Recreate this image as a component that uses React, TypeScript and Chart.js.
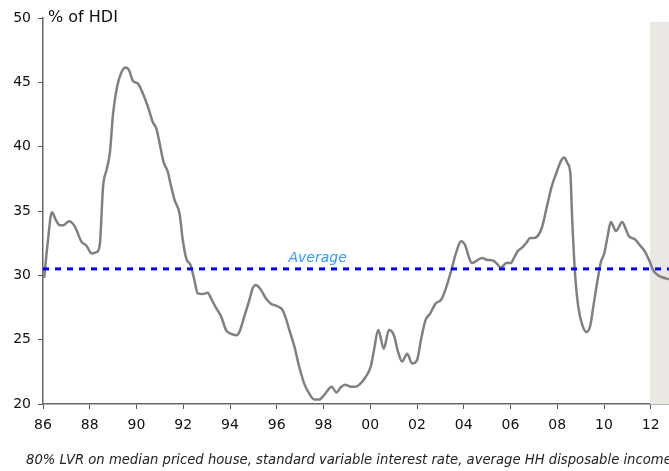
import React, { useEffect, useRef } from "react";
import { Chart, registerables } from "chart.js";

Chart.register(...registerables);

const years: number[] = [
  1986.05, 1986.2, 1986.38, 1986.55, 1986.72, 1986.87, 1987.12, 1987.36, 1987.65, 1987.86,
  1988.08, 1988.29, 1988.43, 1988.57, 1988.72, 1988.86, 1989.0, 1989.17, 1989.36, 1989.54,
  1989.68, 1989.85, 1990.06, 1990.28, 1990.49, 1990.7, 1990.85, 1990.99, 1991.16, 1991.34,
  1991.42, 1991.63, 1991.84, 1991.98, 1992.13, 1992.31, 1992.48, 1992.62, 1992.84, 1993.05,
  1993.19, 1993.41, 1993.62, 1993.83, 1994.05, 1994.26, 1994.4, 1994.61, 1994.83, 1994.97,
  1995.11, 1995.33, 1995.54, 1995.75, 1996.03, 1996.25, 1996.39, 1996.53, 1996.75, 1996.96,
  1997.17, 1997.39, 1997.6, 1997.81, 1998.03, 1998.24, 1998.35, 1998.55, 1998.74, 1998.92,
  1999.16, 1999.38, 1999.59, 1999.8, 2000.02, 2000.16, 2000.34, 2000.58, 2000.8, 2001.01,
  2001.19, 2001.36, 2001.58, 2001.79, 2002.0, 2002.17, 2002.36, 2002.57, 2002.79, 2003.03,
  2003.21, 2003.43, 2003.68, 2003.88, 2004.07, 2004.21, 2004.35, 2004.56, 2004.78, 2004.99,
  2005.25, 2005.42, 2005.59, 2005.82, 2006.01, 2006.16, 2006.3, 2006.52, 2006.69, 2006.84,
  2007.01, 2007.2, 2007.36, 2007.55, 2007.76, 2007.98, 2008.16, 2008.3, 2008.44, 2008.56,
  2008.64, 2008.76, 2008.9, 2009.07, 2009.25, 2009.4, 2009.54, 2009.72, 2009.87, 2010.01,
  2010.15, 2010.29, 2010.51, 2010.78, 2010.92, 2011.06, 2011.32, 2011.53, 2011.75, 2011.96,
  2012.1, 2012.31, 2012.48, 2012.78,
];

const servicing: number[] = [
  29.8, 32.5, 34.9, 34.3, 33.9, 33.9, 34.2, 33.8, 32.6, 32.3,
  31.7, 31.8, 32.4, 36.9, 38.2, 39.5, 42.6, 44.65, 45.8, 46.15,
  45.95, 45.1, 44.9, 44.1, 43.1, 41.9, 41.4, 40.25, 38.8, 38.05,
  37.4, 35.85, 34.8, 32.75, 31.3, 30.8, 29.6, 28.6, 28.55, 28.65,
  28.2, 27.45, 26.8, 25.75, 25.45, 25.35, 25.6, 26.8, 28.1, 29.0,
  29.25, 28.85, 28.2, 27.8, 27.6, 27.3, 26.65, 25.8, 24.5, 22.9,
  21.6, 20.8, 20.35, 20.35, 20.7, 21.2, 21.35, 20.9, 21.3, 21.5,
  21.35, 21.35, 21.6, 22.1, 22.9, 24.2, 25.75, 24.3, 25.75, 25.35,
  24.05, 23.3, 23.9, 23.15, 23.4, 25.0, 26.5, 27.05, 27.8, 28.1,
  28.85, 30.15, 31.8, 32.65, 32.3, 31.45, 30.95, 31.15, 31.35, 31.2,
  31.15, 30.9, 30.6, 30.95, 30.95, 31.4, 31.85, 32.2, 32.55, 32.9,
  32.9, 33.15, 33.8, 35.3, 36.9, 38.05, 38.9, 39.15, 38.7, 37.9,
  34.3, 30.15, 27.55, 26.15, 25.6, 26.0, 27.55, 29.6, 31.05, 31.7,
  33.0, 34.15, 33.45, 34.15, 33.65, 33.05, 32.8, 32.35, 31.85, 31.05,
  30.4, 30.0, 29.85, 29.7,
];

const averageValue = 30.5;
const xRange: number[] = [1986, 2012.78];
const xTickYears: number[] = [1986, 1988, 1990, 1992, 1994, 1996, 1998, 2000, 2002, 2004, 2006, 2008, 2010, 2012];
const yRange: number[] = [20, 50];
const shadedFrom = 2011.97;
const shadedTop = 49.7;
const yAxisLabel = "% of HDI";
const averageLabel = "Average";
const footnote =
  "80% LVR on median priced house, standard variable interest rate, average HH disposable income";

const FONT = "'DejaVu Sans', Verdana, sans-serif";

export default function App() {
  const ref = useRef<HTMLCanvasElement | null>(null);

  useEffect(() => {
    if (!ref.current) return;

    const shade = {
      id: "shade",
      beforeDatasetsDraw(chart: any) {
        const { ctx, chartArea, scales } = chart;
        const x0 = scales.x.getPixelForValue(shadedFrom);
        const yTop = scales.y.getPixelForValue(shadedTop);
        ctx.save();
        ctx.fillStyle = "#ebe8e3";
        ctx.fillRect(x0, yTop, chartArea.right - x0 + 4, chartArea.bottom - yTop);
        ctx.restore();
      },
    };

    const texts = {
      id: "texts",
      afterDraw(chart: any) {
        const { ctx, scales, chartArea } = chart;
        ctx.save();
        ctx.fillStyle = "#111";
        ctx.font = `16px ${FONT}`;
        ctx.textAlign = "left";
        ctx.textBaseline = "middle";
        ctx.fillText(yAxisLabel, chartArea.left + 5, scales.y.getPixelForValue(50) + 0);

        ctx.fillStyle = "#3399ff";
        ctx.font = `italic 14px ${FONT}`;
        ctx.textAlign = "center";
        ctx.textBaseline = "bottom";
        ctx.fillText(averageLabel, scales.x.getPixelForValue(1997.75), scales.y.getPixelForValue(averageValue) - 4);

        ctx.fillStyle = "#222";
        ctx.font = `italic 13.2px ${FONT}`;
        ctx.textAlign = "left";
        ctx.textBaseline = "middle";
        ctx.fillText(footnote, 26, 461);
        ctx.restore();
      },
    };

    const chart = new Chart(ref.current, {
      type: "line",
      data: {
        datasets: [
          {
            label: "Average",
            data: xRange.map((x) => ({ x, y: averageValue })),
            borderColor: "#0000ff",
            borderWidth: 3,
            borderDash: [6, 6],
            pointRadius: 0,
            fill: false,
          },
          {
            label: "Servicing",
            data: years.map((x, i) => ({ x, y: servicing[i] })),
            borderColor: "#808080",
            borderWidth: 2.5,
            pointRadius: 0,
            cubicInterpolationMode: "monotone",
            fill: false,
          },
        ],
      },
      options: {
        animation: false,
        responsive: false,
        maintainAspectRatio: false,
        layout: { padding: { left: 0, right: 0, top: 18, bottom: 0 } },
        plugins: { legend: { display: false }, tooltip: { enabled: false } },
        scales: {
          x: {
            type: "linear",
            min: xRange[0],
            max: xRange[1],
            grid: { drawOnChartArea: false, tickLength: 5, color: "#555", tickWidth: 1 },
            border: { color: "#666", width: 1.5 },
            afterBuildTicks: (s: any) => {
              s.ticks = xTickYears.map((v) => ({ value: v }));
            },
            ticks: {
              autoSkip: false,
              maxRotation: 0,
              padding: 8,
              color: "#111",
              font: { family: FONT, size: 14 },
              callback: (v: any) => String(Math.round(Number(v)) % 100).padStart(2, "0"),
            },
            afterFit: (s: any) => {
              s.height = 67;
            },
          },
          y: {
            min: yRange[0],
            max: yRange[1],
            grid: { drawOnChartArea: false, tickLength: 5, color: "#555", tickWidth: 1 },
            border: { color: "#666", width: 1.5 },
            ticks: {
              stepSize: 5,
              padding: 7,
              color: "#111",
              font: { family: FONT, size: 14 },
            },
            afterFit: (s: any) => {
              s.width = 43;
            },
          },
        },
      },
      plugins: [shade, texts],
    });

    return () => chart.destroy();
  }, []);

  return (
    <div style={{ position: "fixed", left: 0, top: 0, width: 669, height: 471, background: "#fff" }}>
      <canvas ref={ref} width={669} height={471} style={{ width: 669, height: 471 }} />
    </div>
  );
}
